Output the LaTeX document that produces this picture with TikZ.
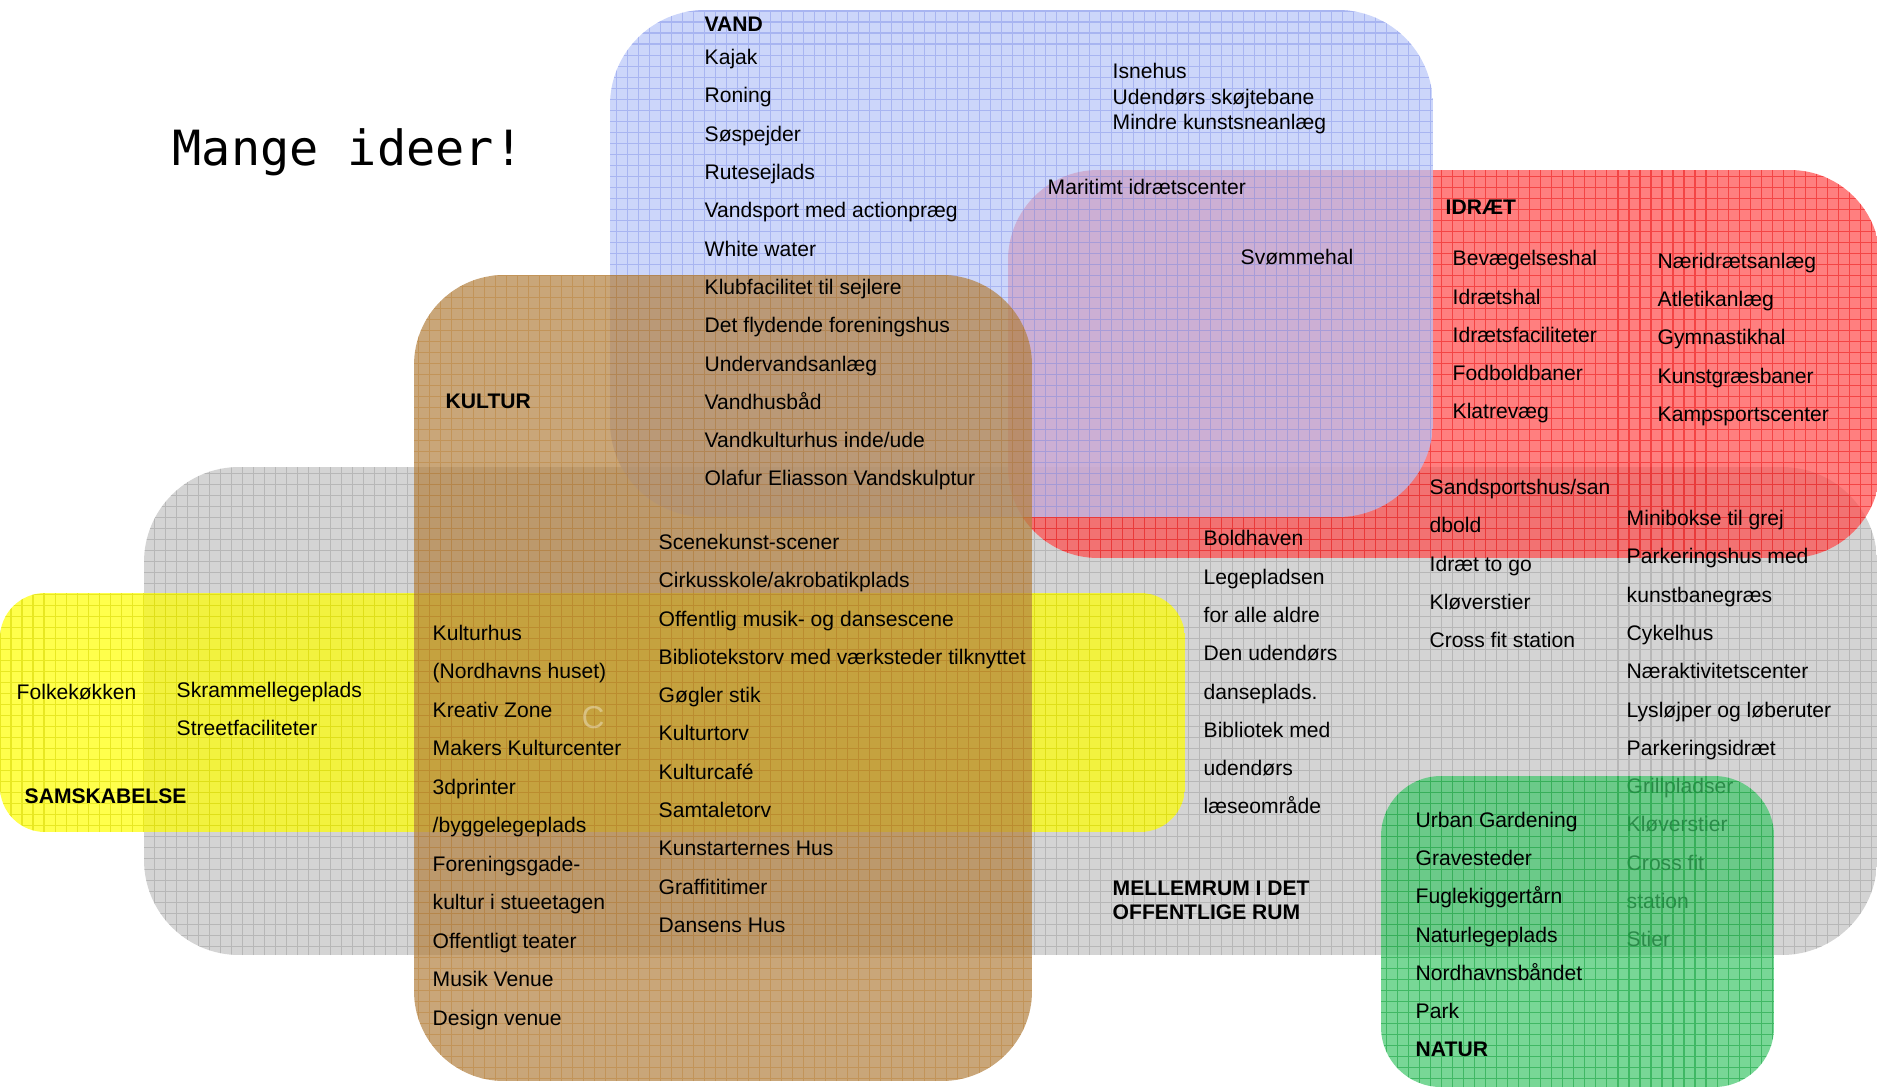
\documentclass[tikz,border=0pt]{standalone}
\usepackage{fontspec}
\setmainfont{Liberation Sans}
\newfontfamily\titlefont{DejaVu Sans Mono}
\usepackage{xcolor}

\definecolor{vandblue}{RGB}{183,196,248}
\definecolor{vandline}{RGB}{140,155,235}
\definecolor{idraetred}{RGB}{255,73,73}
\definecolor{idraetline}{RGB}{235,20,20}
\definecolor{kulturbrown}{RGB}{178,128,64}
\definecolor{kulturline}{RGB}{185,120,40}
\definecolor{rumgray}{RGB}{194,194,194}
\definecolor{rumline}{RGB}{160,160,160}
\definecolor{samyellow}{RGB}{255,255,0}
\definecolor{samline}{RGB}{215,215,0}
\definecolor{naturgreen}{RGB}{62,198,105}
\definecolor{naturline}{RGB}{20,160,60}

\begin{document}
\begin{tikzpicture}[x=0.01cm, y=-0.01cm,
    item/.style={anchor=base west, inner sep=0pt, font=\fontsize{6}{7}\selectfont},
    head/.style={item, font=\fontsize{6}{7}\selectfont\bfseries},
    gridline/.style={line width=0.3pt, draw opacity=0.55}]

    \useasboundingbox (0,0) rectangle (1877,1088);

    % Mellemrum i det offentlige rum
    \begin{scope}
        \clip[rounded corners=0.95cm] (144,467) rectangle (1877,955);
        \fill[rumgray, fill opacity=0.7] (144,467) rectangle (1877,955);
        \draw[rumline, gridline, step=0.11cm] (144,467) grid (1877,955);
    \end{scope}

    % Samskabelse
    \begin{scope}
        \clip[rounded corners=0.45cm] (0,593) rectangle (1185,832);
        \fill[samyellow, fill opacity=0.7] (0,593) rectangle (1185,832);
        \draw[samline, gridline, step=0.11cm] (0,593) grid (1185,832);
    \end{scope}

    % Idraet
    \begin{scope}
        \clip[rounded corners=0.9cm] (1008,170) rectangle (1880,558);
        \fill[idraetred, fill opacity=0.7] (1008,170) rectangle (1880,558);
        \draw[idraetline, gridline, step=0.11cm] (1008,170) grid (1880,558);
    \end{scope}

    % Vand
    \begin{scope}
        \clip[rounded corners=0.95cm] (610,10) rectangle (1433,517);
        \fill[vandblue, fill opacity=0.7] (610,10) rectangle (1433,517);
        \draw[vandline, gridline, step=0.11cm] (610,10) grid (1433,517);
    \end{scope}

    % Kultur
    \begin{scope}
        \clip[rounded corners=0.9cm] (414,275) rectangle (1032,1081);
        \fill[kulturbrown, fill opacity=0.7] (414,275) rectangle (1032,1081);
        \draw[kulturline, gridline, draw opacity=0.4, step=0.11cm] (414,275) grid (1032,1081);
    \end{scope}

    % Title
    \node[anchor=base west, inner sep=0pt, font=\titlefont\fontsize{13.8}{16}\selectfont]
        (title) at (172,166) {Mange ideer!};

    % Vand texts
    \node[head] (vand) at (704,32) {VAND};
    \foreach \txt [count=\i] in {Kajak, Roning, Søspejder, Rutesejlads,
        Vandsport med actionpræg, White water, Klubfacilitet til sejlere,
        Det flydende foreningshus, Undervandsanlæg, Vandhusbåd,
        Vandkulturhus inde/ude, Olafur Eliasson Vandskulptur}
        \node[item] (vand-\i) at (704,{64.6+38.3*(\i-1)}) {\txt};
    \foreach \txt [count=\i] in {Isnehus, Udendørs skøjtebane, Mindre kunstsneanlæg}
        \node[item] (is-\i) at (1112,{79+25.2*(\i-1)}) {\txt};

    % Idraet texts
    \node[item] (maritimt) at (1047,195) {Maritimt idrætscenter};
    \node[item] (svoem) at (1240,264) {Svømmehal};
    \node[head] (idraet) at (1445,215) {IDRÆT};
    \foreach \txt [count=\i] in {Bevægelseshal, Idrætshal, Idrætsfaciliteter,
        Fodboldbaner, Klatrevæg}
        \node[item] (idr-a\i) at (1452,{265.7+38.3*(\i-1)}) {\txt};
    \foreach \txt [count=\i] in {Næridrætsanlæg, Atletikanlæg, Gymnastikhal,
        Kunstgræsbaner, Kampsportscenter}
        \node[item] (idr-b\i) at (1657,{268.1+38.3*(\i-1)}) {\txt};

    % Kultur texts
    \node[head] (kultur) at (445,408) {KULTUR};
    \foreach \txt [count=\i] in {Kulturhus, {(Nordhavns huset)}, Kreativ Zone,
        Makers Kulturcenter, 3dprinter, /byggelegeplads, Foreningsgade-,
        kultur i stueetagen, Offentligt teater, Musik Venue, Design venue}
        \node[item] (kul-a\i) at (432,{640.4+38.5*(\i-1)}) {\txt};
    \foreach \txt [count=\i] in {Scenekunst-scener, Cirkusskole/akrobatikplads,
        Offentlig musik- og dansescene, Bibliotekstorv med værksteder tilknyttet,
        Gøgler stik, Kulturtorv, Kulturcafé, Samtaletorv, Kunstarternes Hus,
        Graffititimer, Dansens Hus}
        \node[item] (kul-b\i) at (658,{549.4+38.3*(\i-1)}) {\txt};
    \node[anchor=base west, inner sep=0pt, font=\fontsize{9}{10}\selectfont,
        text=white, text opacity=0.35] (ghost) at (581,728) {C};

    % Samskabelse texts
    \node[item] (folk) at (16,699) {Folkekøkken};
    \node[item] (skram) at (176,697) {Skrammellegeplads};
    \node[item] (street) at (176,735) {Streetfaciliteter};
    \node[head] (sam) at (24,803) {SAMSKABELSE};

    % Mellemrum texts
    \foreach \txt [count=\i] in {Boldhaven, Legepladsen, for alle aldre,
        Den udendørs, danseplads., Bibliotek med, udendørs, læseområde}
        \node[item] (rum-a\i) at (1203,{545.8+38.3*(\i-1)}) {\txt};
    \foreach \txt [count=\i] in {Sandsportshus/san, dbold, Idræt to go,
        Kløverstier, Cross fit station}
        \node[item] (rum-b\i) at (1429,{494.4+38.3*(\i-1)}) {\txt};
    \foreach \txt [count=\i] in {Minibokse til grej, Parkeringshus med,
        kunstbanegræs, Cykelhus, Næraktivitetscenter, Lysløjper og løberuter,
        Parkeringsidræt, Grillpladser, Kløverstier, Cross fit, station, Stier}
        \node[item] (rum-c\i) at (1626,{525.5+38.3*(\i-1)}) {\txt};
    \node[head] (rum1) at (1112,895) {MELLEMRUM I DET};
    \node[head] (rum2) at (1112,919) {OFFENTLIGE RUM};

    % Natur
    \begin{scope}
        \clip[rounded corners=0.6cm] (1381,776) rectangle (1774,1087);
        \fill[naturgreen, fill opacity=0.7] (1381,776) rectangle (1774,1087);
        \draw[naturline, gridline, step=0.11cm] (1381,776) grid (1774,1087);
    \end{scope}
    \foreach \txt [count=\i] in {Urban Gardening, Gravesteder, Fuglekiggertårn,
        Naturlegeplads, Nordhavnsbåndet, Park}
        \node[item] (nat-\i) at (1415,{827.1+38.3*(\i-1)}) {\txt};
    \node[head] (natur) at (1415,1056.9) {NATUR};
\end{tikzpicture}
\end{document}
